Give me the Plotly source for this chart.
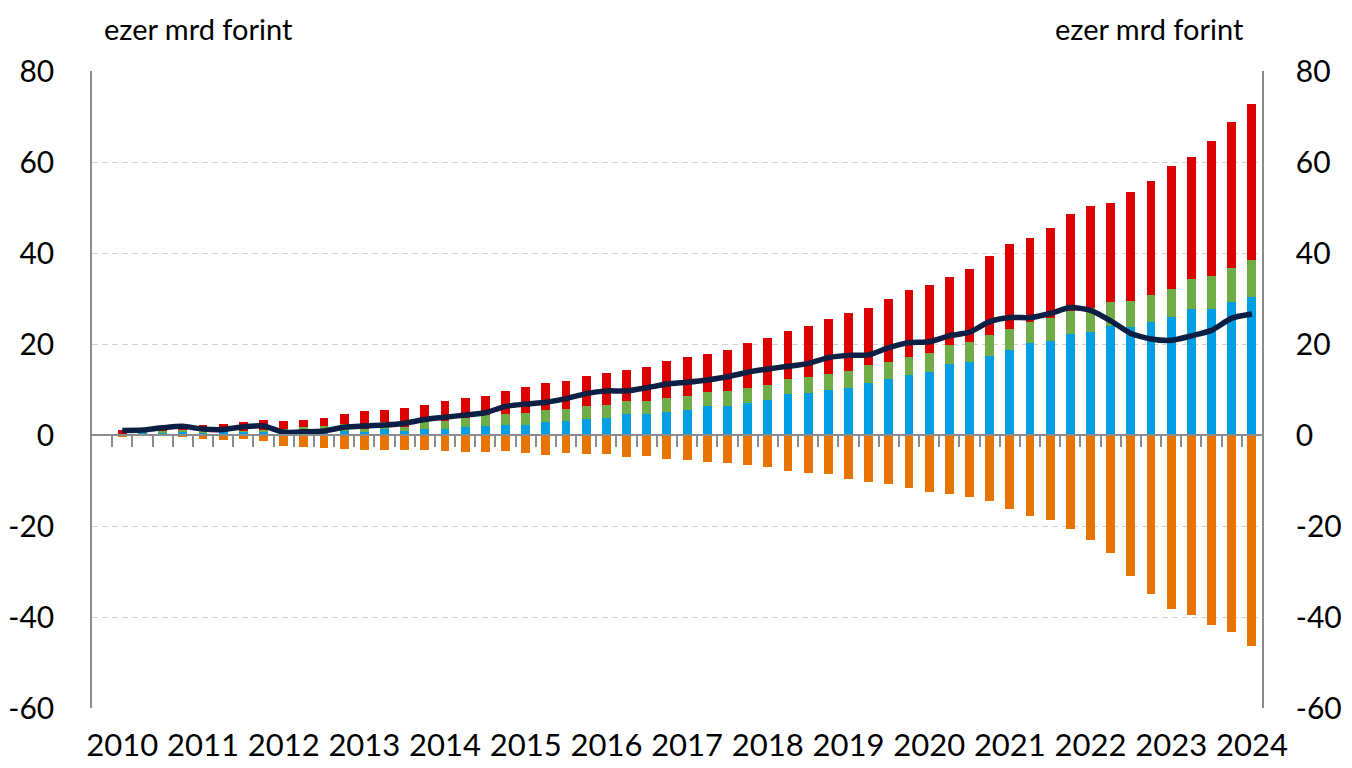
import plotly.graph_objects as go

# ---- data (quarterly, 2010 Q1 .. 2024 Q1), ezer mrd forint ----
years = [str(y) for y in range(2010, 2025)]
quarters = [f"{y} Q{q}" for y in range(2010, 2025) for q in range(1, 5)][:57]

blue = [0.2, 0.5, 0.4, 0.6, 0.5, 0.7, 0.7, 0.7, 0.4, 0.35, 0.5, 0.9, 0.7, 1.25, 0.95, 1.25,
        1.4, 1.8, 2.0, 2.3, 2.3, 2.9, 3.1, 3.5, 3.7, 4.6, 4.6, 5.1, 5.4, 6.3, 6.3, 7.0,
        7.6, 9.0, 9.3, 9.9, 10.3, 11.5, 12.3, 13.1, 13.9, 15.6, 16.0, 17.3, 18.6, 20.2, 20.7, 22.2,
        22.7, 24.0, 23.8, 24.9, 26.0, 27.6, 27.8, 29.3, 30.4]
green = [0.1, 0.2, 0.5, 0.5, 0.4, 0.3, 0.25, 0.4, 0.85, 1.35, 1.5, 1.5, 0.55, 1.65, 0.75, 2.45,
         1.7, 1.9, 2.3, 2.4, 2.5, 2.6, 2.6, 2.9, 2.8, 2.8, 2.9, 3.1, 3.1, 3.2, 3.3, 3.4,
         3.3, 3.4, 3.5, 3.6, 3.7, 3.9, 3.8, 4.1, 4.1, 4.2, 4.5, 4.6, 4.7, 4.7, 5.0, 5.1,
         5.2, 5.3, 5.7, 5.8, 6.1, 6.6, 7.1, 7.5, 8.0]
red = [0.8, 0.5, 0.9, 1.3, 1.3, 1.4, 1.85, 2.2, 1.85, 1.7, 1.8, 2.3, 3.95, 2.6, 4.2, 3.0,
       4.3, 4.4, 4.3, 4.9, 5.8, 5.9, 6.2, 6.6, 7.2, 6.9, 7.4, 8.1, 8.6, 8.3, 9.15, 9.9,
       10.5, 10.5, 11.2, 11.9, 12.9, 12.5, 13.8, 14.6, 15.0, 14.9, 15.9, 17.4, 18.7, 18.4, 19.8, 21.2,
       22.4, 21.8, 23.9, 25.2, 27.0, 27.0, 29.7, 31.9, 34.3]
orange = [-0.3, -0.2, -0.2, -0.4, -0.9, -1.1, -0.9, -1.3, -2.5, -2.7, -2.9, -3.0, -3.3, -3.4, -3.4, -3.3,
          -3.5, -3.7, -3.8, -3.5, -3.9, -4.4, -4.0, -4.1, -4.1, -4.8, -4.6, -5.2, -5.6, -5.9, -6.1, -6.6,
          -7.1, -7.9, -8.4, -8.5, -9.6, -10.4, -10.7, -11.6, -12.5, -13.0, -13.7, -14.5, -16.3, -17.7, -18.6, -20.6,
          -23.0, -26.0, -31.0, -34.9, -38.2, -39.5, -41.7, -43.3, -46.4]
net = [1.0, 1.1, 1.6, 1.9, 1.3, 1.2, 1.8, 2.0, 0.6, 0.7, 0.9, 1.7, 2.0, 2.2, 2.6, 3.4,
       3.9, 4.4, 4.9, 6.3, 6.8, 7.2, 8.0, 9.1, 9.7, 9.7, 10.4, 11.2, 11.6, 12.1, 12.8, 13.8,
       14.5, 15.1, 15.7, 17.0, 17.5, 17.6, 19.2, 20.3, 20.5, 21.8, 22.6, 24.9, 25.8, 25.8, 26.7, 28.0,
       27.4, 25.1, 22.3, 21.1, 20.8, 21.8, 23.0, 25.7, 26.6]

y_ticks = [-60, -40, -20, 0, 20, 40, 60, 80]
y_ticktext = ["-60", "-40", "-20", "0", "20", "40", "60", "80"]
unit_label = "ezer mrd forint"

# ---- layout helpers ----
pos = [i + 1 for i in range(len(quarters))]          # one empty slot before 2010 Q1
x_range = [-0.5, len(quarters) + 0.5]
y_range = [y_ticks[0], y_ticks[-1]]
zero_frac = (0 - y_range[0]) / (y_range[1] - y_range[0])
year_pos = [1 + 4 * k for k in range(len(years))]
bounds = [p + 0.5 for p in pos[:-1]] + [0.5]

FONT = "Lato"
AX = "#8c8c8c"
GRID = "#d2d2d2"

fig = go.Figure()
for vals, col in [(blue, "#009FE3"), (green, "#70AD47"), (red, "#DD0000"), (orange, "#E87400")]:
    fig.add_trace(go.Bar(x=pos, y=vals, width=0.44, marker=dict(color=col, line=dict(width=0)),
                         customdata=quarters, hovertemplate="%{customdata}: %{y}<extra></extra>",
                         showlegend=False))

fig.add_trace(go.Scatter(x=pos, y=net, mode="lines", xaxis="x2", yaxis="y2",
                         line=dict(color="#0B1F45", width=5.5, shape="spline", smoothing=0.6),
                         customdata=quarters, hovertemplate="%{customdata}: %{y}<extra></extra>",
                         showlegend=False))

tickfont = dict(family=FONT, size=30, color="black")
xtickfont = dict(family=FONT, size=31, color="black")
fig.update_layout(
    width=1344, height=760,
    margin=dict(l=84, r=90, t=63, b=60, autoexpand=False),
    paper_bgcolor="white", plot_bgcolor="white",
    barmode="relative", bargap=0,
    font=dict(family=FONT, color="black"),
    xaxis=dict(range=x_range, tickmode="array", tickvals=year_pos, ticktext=years,
               showgrid=False, zeroline=False, showline=False, ticks="", automargin=False,
               tickfont=xtickfont, ticklabelstandoff=16),
    xaxis2=dict(range=x_range, overlaying="x", anchor="free", position=zero_frac,
                showgrid=False, zeroline=False, showline=True, linecolor=AX, linewidth=1.8,
                ticks="outside", ticklen=11, tickwidth=1.8, tickcolor=AX, automargin=False,
                tickmode="array", tickvals=bounds, showticklabels=False),
    yaxis=dict(range=y_range, tickmode="array", tickvals=y_ticks, ticktext=y_ticktext,
               showgrid=True, gridcolor=GRID, gridwidth=1.4, griddash="6px,4px",
               zeroline=False, showline=True, linecolor=AX, linewidth=1.5, automargin=False,
               ticks="", tickfont=tickfont, ticklabelstandoff=30),
    yaxis2=dict(range=y_range, overlaying="y", side="right", anchor="x",
                tickmode="array", tickvals=y_ticks, ticktext=y_ticktext,
                showgrid=False, zeroline=False, automargin=False,
                showline=True, linecolor=AX, linewidth=1.5,
                ticks="", tickfont=tickfont, ticklabelstandoff=26),
    annotations=[
        dict(text=unit_label, xref="paper", yref="paper", x=0.0083, y=1.066,
             xanchor="left", yanchor="middle", showarrow=False,
             font=dict(family=FONT, size=29, color="black")),
        dict(text=unit_label, xref="paper", yref="paper", x=0.986, y=1.066,
             xanchor="right", yanchor="middle", showarrow=False,
             font=dict(family=FONT, size=29, color="black")),
    ],
)

fig.write_html("out.html")
